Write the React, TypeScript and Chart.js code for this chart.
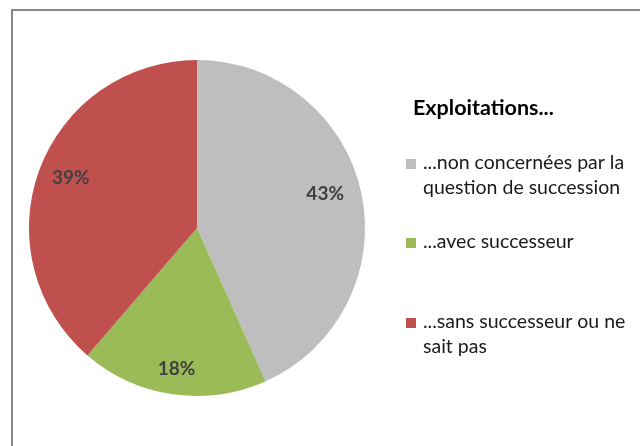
import React, { useEffect, useRef } from "react";
import { Chart, registerables } from "chart.js";

Chart.register(...registerables);

const legendTitle = "Exploitations...";
const categories = [
  "...non concernées par la question de succession",
  "...avec successeur",
  "...sans successeur ou ne sait pas",
];
const legendLines = [
  ["...non concernées par la", "question de succession"],
  ["...avec successeur"],
  ["...sans successeur ou ne", "sait pas"],
];
const values = [43.3, 18, 38.7];
const valueLabels = ["43%", "18%", "39%"];
const colors = ["#BEBEBE", "#9BBB59", "#C0504D"];

const FONT = "Lato, 'Open Sans', 'DejaVu Sans', sans-serif";

const framePlugin = {
  id: "frame",
  beforeDraw(chart: any) {
    const ctx = chart.ctx;
    ctx.save();
    ctx.fillStyle = "#ffffff";
    ctx.fillRect(0, 0, chart.width, chart.height);
    ctx.strokeStyle = "#878787";
    ctx.lineWidth = 2;
    ctx.beginPath();
    ctx.moveTo(12, chart.height + 5);
    ctx.lineTo(12, 10);
    ctx.lineTo(chart.width + 5, 10);
    ctx.stroke();
    ctx.restore();
  },
};

const labelPlugin = {
  id: "pieLabels",
  afterDatasetsDraw(chart: any) {
    const ctx = chart.ctx;
    const meta = chart.getDatasetMeta(0);
    const factors = [0.79, 0.85, 0.81];
    const shifts = [-3, 0, 1.5];
    ctx.save();
    ctx.font = "bold 19px " + FONT;
    ctx.fillStyle = "#404040";
    ctx.textAlign = "center";
    ctx.textBaseline = "middle";
    meta.data.forEach((arc: any, i: number) => {
      const p = arc.getProps(["x", "y", "startAngle", "endAngle", "outerRadius"], true);
      const mid = (p.startAngle + p.endAngle) / 2 + (shifts[i] * Math.PI) / 180;
      const r = p.outerRadius * factors[i];
      ctx.fillText(valueLabels[i], p.x + Math.cos(mid) * r, p.y + Math.sin(mid) * r);
    });
    ctx.restore();
  },
};

const legendPlugin = {
  id: "customLegend",
  afterDraw(chart: any) {
    const ctx = chart.ctx;
    ctx.save();
    ctx.textBaseline = "middle";
    ctx.textAlign = "left";
    ctx.font = "bold 21.5px " + FONT;
    ctx.fillStyle = "#000000";
    ctx.fillText(legendTitle, 413, 108);
    const itemY = [163, 242, 322];
    ctx.font = "19.5px " + FONT;
    legendLines.forEach((lines, i) => {
      const y = itemY[i];
      ctx.fillStyle = colors[i];
      ctx.fillRect(406, y - 4, 10, 10);
      ctx.fillStyle = "#1a1a1a";
      lines.forEach((t, j) => ctx.fillText(t, 423, y + j * 25));
    });
    ctx.restore();
  },
};

export default function App() {
  const ref = useRef<HTMLCanvasElement>(null);
  useEffect(() => {
    document.body.style.margin = "0";
    const chart = new Chart(ref.current as HTMLCanvasElement, {
      type: "pie",
      data: {
        labels: categories,
        datasets: [
          {
            data: values,
            backgroundColor: colors,
            borderColor: "#ffffff",
            borderWidth: 0,
          },
        ],
      },
      options: {
        animation: false,
        responsive: false,
        layout: { padding: { left: 29, right: 275, top: 60, bottom: 50 } },
        plugins: {
          legend: { display: false },
          tooltip: { enabled: false },
          title: { display: false },
        },
      },
      plugins: [framePlugin, labelPlugin, legendPlugin],
    });
    return () => chart.destroy();
  }, []);
  return (
    <div style={{ width: 640, height: 446 }}>
      <canvas ref={ref} width={640} height={446} />
    </div>
  );
}
